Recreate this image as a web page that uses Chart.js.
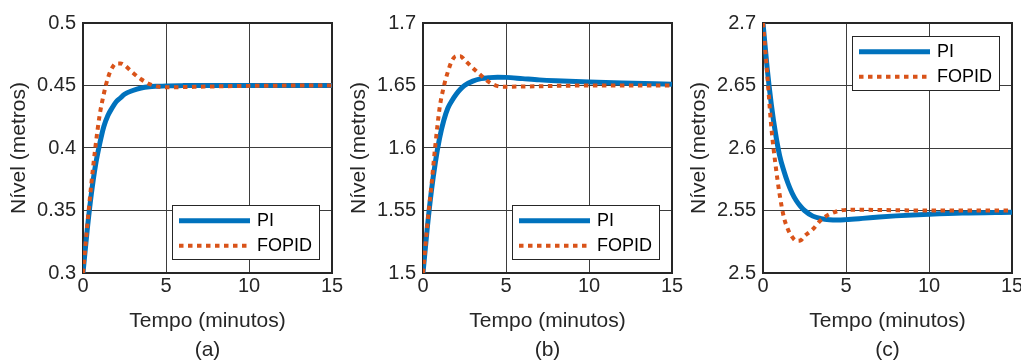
<!DOCTYPE html>
<html lang="pt">
<head>
<meta charset="UTF-8">
<title>Nível - PI vs FOPID</title>
<script src="https://cdn.jsdelivr.net/npm/chart.js@4.4.1/dist/chart.umd.min.js"></script>
<style>
  body { margin: 0; width: 1021px; height: 361px; overflow: hidden; background: #fff; position: relative; }
  canvas { position: absolute; top: 0; }
</style>
</head>
<body>
<canvas id="chartA" width="360" height="361" style="left:0"></canvas>
<canvas id="chartB" width="360" height="361" style="left:340px"></canvas>
<canvas id="chartC" width="360" height="361" style="left:680px"></canvas>

<script>
// time samples (minutos)
const tempo = [0, 0.25, 0.5, 0.75, 1, 1.25, 1.5, 1.75, 2, 2.25, 2.5, 3, 3.5, 4, 4.5, 5, 6, 7, 8, 10, 12, 15];

// (a)
const piA    = [0.3, 0.334, 0.363, 0.386, 0.403, 0.417, 0.426, 0.432, 0.437, 0.440, 0.443, 0.446, 0.448, 0.449, 0.4494, 0.4497, 0.4499, 0.45, 0.45, 0.45, 0.45, 0.45];
const fopidA = [0.3, 0.337, 0.371, 0.401, 0.426, 0.443, 0.456, 0.464, 0.4677, 0.4677, 0.4662, 0.4602, 0.455, 0.4512, 0.4492, 0.4486, 0.4487, 0.449, 0.4493, 0.4497, 0.4499, 0.45];
// (b)
const piB    = [1.5, 1.535, 1.565, 1.589, 1.608, 1.622, 1.632, 1.638, 1.643, 1.647, 1.650, 1.6535, 1.6555, 1.6563, 1.6566, 1.6565, 1.6555, 1.6545, 1.6538, 1.6528, 1.652, 1.651];
const fopidB = [1.5, 1.537, 1.569, 1.603, 1.632, 1.649, 1.661, 1.670, 1.6735, 1.6735, 1.6705, 1.664, 1.658, 1.6525, 1.6495, 1.649, 1.6492, 1.6494, 1.6497, 1.65, 1.65, 1.65];
// (c)
const piC    = [2.7, 2.664, 2.635, 2.612, 2.594, 2.582, 2.572, 2.564, 2.558, 2.5535, 2.55, 2.5455, 2.5435, 2.5426, 2.5424, 2.5427, 2.5437, 2.5448, 2.5457, 2.547, 2.548, 2.5487];
const fopidC = [2.7, 2.66, 2.617, 2.587, 2.563, 2.545, 2.535, 2.529, 2.5258, 2.526, 2.5295, 2.535, 2.5425, 2.547, 2.5495, 2.5505, 2.5506, 2.5504, 2.5502, 2.55, 2.55, 2.55];

// tick labels
const xTicks = [0, 5, 10, 15];
const yTicksA = [0.3, 0.35, 0.4, 0.45, 0.5];
const yTicksB = [1.5, 1.55, 1.6, 1.65, 1.7];
const yTicksC = [2.5, 2.55, 2.6, 2.65, 2.7];

const FONT = "'Liberation Sans', Arial, sans-serif";
const INK = '#262626';
Chart.defaults.font.family = FONT;
Chart.defaults.color = INK;

// box around the plot area (matlab style)
const frame = {
    id: 'frame',
    beforeDatasetsDraw(chart) {
        const { ctx, chartArea: a } = chart;
        ctx.save();
        ctx.strokeStyle = INK;
        ctx.lineWidth = 2;
        ctx.strokeRect(a.left, a.top, a.right - a.left, a.bottom - a.top);
        ctx.restore();
    }
};

// legend drawn inside the axes
const boxLegend = {
    id: 'boxLegend',
    afterDatasetsDraw(chart, args, opts) {
        const { ctx, chartArea: a } = chart;
        const w = 147, h = 54;
        const x = Math.round(a.right - 13 - w);
        const y = Math.round(opts.top ? a.top + 13 : a.bottom - 14 - h);
        ctx.save();
        ctx.fillStyle = '#fff';
        ctx.fillRect(x, y, w, h);
        ctx.strokeStyle = INK;
        ctx.lineWidth = 1;
        ctx.strokeRect(x + 0.5, y + 0.5, w, h);
        chart.data.datasets.forEach((ds, i) => {
            const ly = y + 15.7 + i * 25;
            ctx.beginPath();
            ctx.setLineDash(ds.borderDash || []);
            ctx.strokeStyle = ds.borderColor;
            ctx.lineWidth = ds.borderWidth;
            ctx.moveTo(x + 7, ly);
            ctx.lineTo(x + 78, ly);
            ctx.stroke();
            ctx.setLineDash([]);
            ctx.fillStyle = '#000';
            ctx.font = '18px ' + FONT;
            ctx.textBaseline = 'middle';
            ctx.fillText(ds.label, x + 85, ly);
        });
        ctx.restore();
    }
};

function toPoints(ys) {
    return tempo.map((t, i) => ({ x: t, y: ys[i] }));
}

function makeChart(id, pi, fopid, yTicks, caption, legendTop) {
    new Chart(document.getElementById(id), {
        type: 'line',
        data: {
            datasets: [
                {
                    label: 'PI',
                    data: toPoints(pi),
                    borderColor: '#0072BD',
                    borderWidth: 5,
                    pointRadius: 0,
                    cubicInterpolationMode: 'monotone',
                    order: 2
                },
                {
                    label: 'FOPID',
                    data: toPoints(fopid),
                    borderColor: '#D95319',
                    borderWidth: 4,
                    borderDash: [4.5, 4.5],
                    borderCapStyle: 'butt',
                    pointRadius: 0,
                    cubicInterpolationMode: 'monotone',
                    order: 1
                }
            ]
        },
        options: {
            responsive: false,
            animation: false,
            devicePixelRatio: 1,
            layout: { padding: { left: 0, right: 28, top: 23, bottom: 0 } },
            scales: {
                x: {
                    type: 'linear',
                    min: 0,
                    max: 15,
                    afterBuildTicks: s => { s.ticks = xTicks.map(v => ({ value: v })); },
                    afterFit: s => { s.height = 88; },
                    grid: { color: '#3d3d3d', lineWidth: 1, drawTicks: false },
                    border: { display: false },
                    ticks: { font: { size: 20 }, padding: 1, color: INK, maxRotation: 0 },
                    title: {
                        display: true,
                        text: ['Tempo (minutos)', caption],
                        font: { size: 21, lineHeight: 1.4 },
                        color: INK,
                        padding: { top: 0, bottom: -4 }
                    }
                },
                y: {
                    type: 'linear',
                    min: yTicks[0],
                    max: yTicks[yTicks.length - 1],
                    afterBuildTicks: s => { s.ticks = yTicks.map(v => ({ value: v })); },
                    afterFit: s => { s.width = 83; },
                    grid: { color: '#3d3d3d', lineWidth: 1, drawTicks: false },
                    border: { display: false },
                    ticks: { font: { size: 20 }, padding: 7, color: INK, callback: v => String(v) },
                    title: {
                        display: true,
                        text: 'Nível (metros)',
                        font: { size: 21 },
                        color: INK,
                        padding: { top: 7, bottom: 0 }
                    }
                }
            },
            plugins: {
                legend: { display: false },
                tooltip: { enabled: false },
                boxLegend: { top: legendTop }
            }
        },
        plugins: [frame, boxLegend]
    });
}

makeChart('chartA', piA, fopidA, yTicksA, '(a)', false);
makeChart('chartB', piB, fopidB, yTicksB, '(b)', false);
makeChart('chartC', piC, fopidC, yTicksC, '(c)', true);
</script>
</body>
</html>
